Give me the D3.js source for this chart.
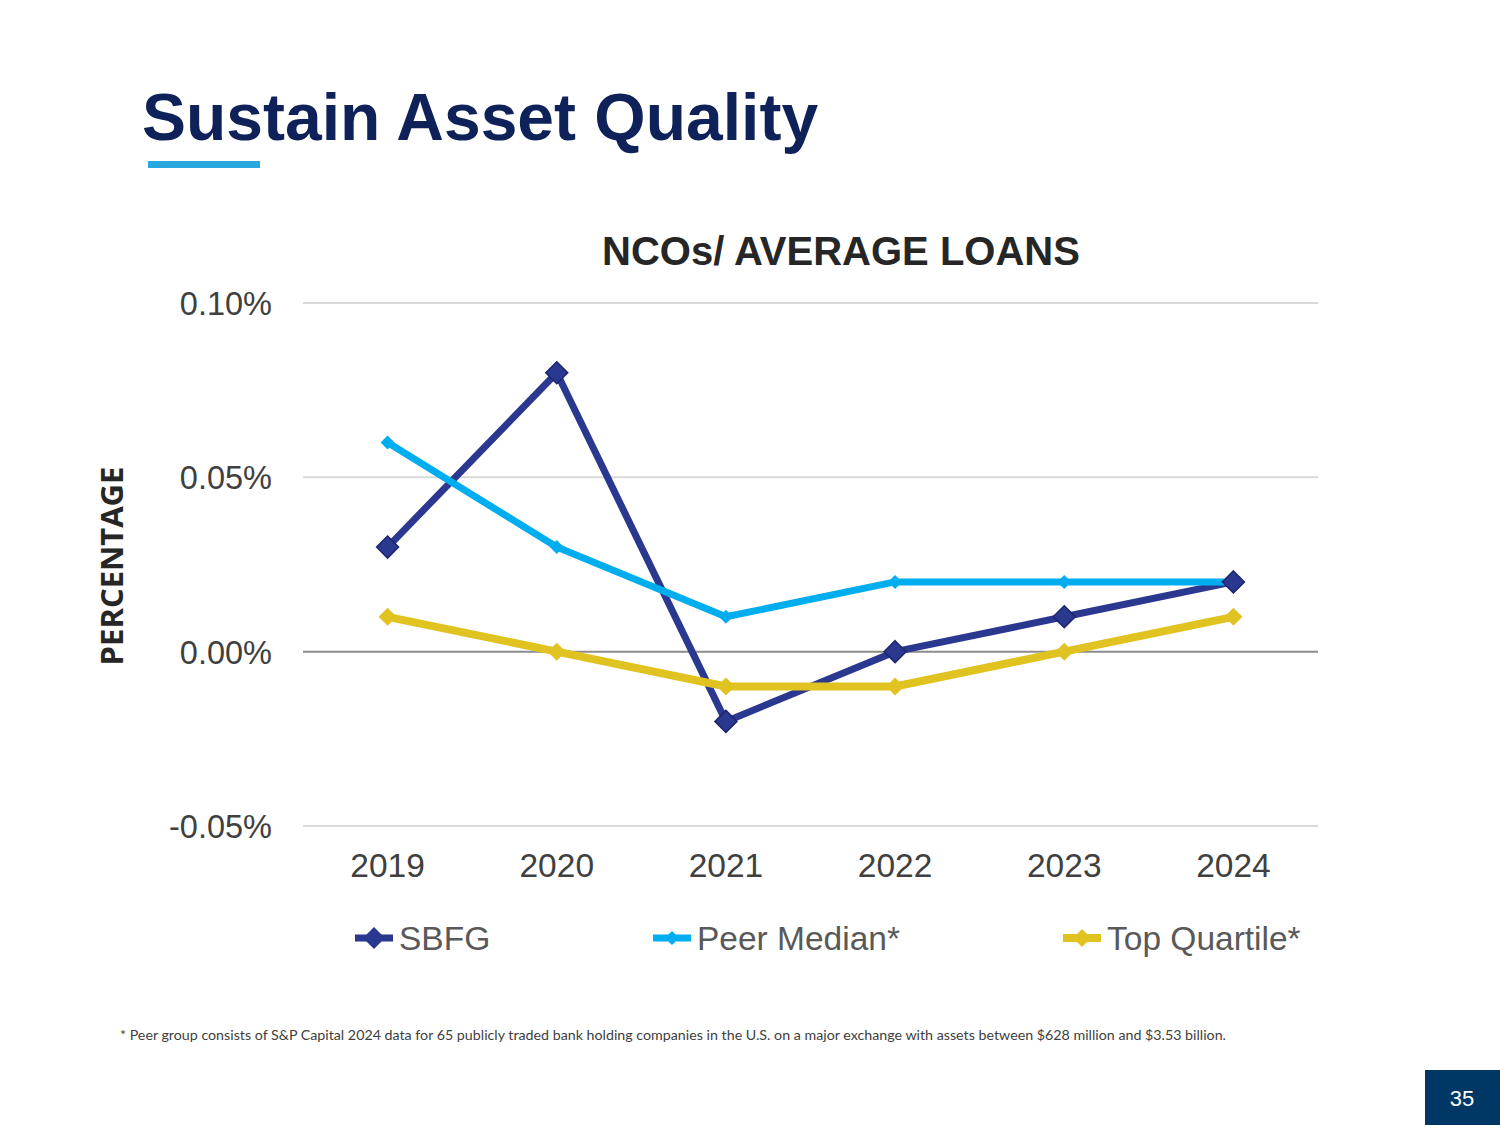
<!DOCTYPE html>
<html>
<head>
<meta charset="utf-8">
<script src="https://cdn.jsdelivr.net/npm/d3@7"></script>
<style>
  body { margin: 0; background: #fff; }
  svg { display: block; }
</style>
</head>
<body>
<svg id="slide" width="1500" height="1125"></svg>
<script>
// chart data
let years = ['2019', '2020', '2021', '2022', '2023', '2024']
let sbfg = [0.03, 0.08, -0.02, 0.00, 0.01, 0.02]
let peerMedian = [0.06, 0.03, 0.01, 0.02, 0.02, 0.02]
let topQuartile = [0.01, 0.00, -0.01, -0.01, 0.00, 0.01]
let yTicks = [-0.05, 0, 0.05, 0.10]
let seriesNames = ['SBFG', 'Peer Median*', 'Top Quartile*']

let svg = d3.select('#slide')

// slide header
svg.append('text')
  .attr('x', 142).attr('y', 140)
  .style('font-family', 'Liberation Sans, Arial, sans-serif')
  .style('font-weight', 'bold')
  .style('font-size', '66px')
  .attr('fill', '#0e2158')
  .text('Sustain Asset Quality')
svg.append('rect')
  .attr('x', 148).attr('y', 161).attr('width', 112).attr('height', 7)
  .attr('fill', '#29a8e0')

let x = d3.scalePoint().domain(years).range([303, 1318]).padding(0.5)
let y = d3.scaleLinear().domain([-0.05, 0.10]).range([826, 303])

// grid
svg.append('g').selectAll('line')
  .data(yTicks)
  .enter().append('line')
  .attr('x1', 303).attr('x2', 1318)
  .attr('y1', d => y(d)).attr('y2', d => y(d))
  .attr('stroke', d => d === 0 ? '#8c8c8c' : '#d9d9d9')
  .attr('stroke-width', 2)

// y tick labels
let pct = d => (d < 0 ? '-' : '') + d3.format('.2f')(Math.abs(d)) + '%'
svg.append('g').selectAll('text')
  .data(yTicks)
  .enter().append('text')
  .attr('x', 272).attr('y', d => y(d) + 12)
  .attr('text-anchor', 'end')
  .style('font-family', 'Liberation Sans, Arial, sans-serif')
  .style('font-size', '32.5px')
  .attr('fill', '#404040')
  .text(pct)

// x labels
svg.append('g').selectAll('text')
  .data(years)
  .enter().append('text')
  .attr('x', d => x(d)).attr('y', 877)
  .attr('text-anchor', 'middle')
  .style('font-family', 'Liberation Sans, Arial, sans-serif')
  .style('font-size', '33.5px')
  .attr('fill', '#404040')
  .text(d => d)

// chart title
svg.append('text')
  .attr('x', 841).attr('y', 265)
  .attr('text-anchor', 'middle')
  .style('font-family', 'Liberation Sans, Arial, sans-serif')
  .style('font-weight', 'bold')
  .style('font-size', '40px')
  .attr('fill', '#262626')
  .text('NCOs/ AVERAGE LOANS')

// y axis title
svg.append('text')
  .attr('transform', 'translate(123,566)rotate(-90)')
  .attr('text-anchor', 'middle')
  .style('font-family', 'Open Sans, sans-serif')
  .style('font-weight', 'bold')
  .style('font-size', '31px')
  .attr('fill', '#262626')
  .text('PERCENTAGE')

let series = [
  { name: seriesNames[0], values: sbfg, color: '#2b388f', width: 7, marker: 11, stroke: '#1c2670' },
  { name: seriesNames[1], values: peerMedian, color: '#00aeef', width: 7, marker: 7, stroke: 'none' },
  { name: seriesNames[2], values: topQuartile, color: '#e0c321', width: 8, marker: 9, stroke: 'none' }
]

let line = d3.line()
  .x((d, i) => x(years[i]))
  .y(d => y(d))

svg.append('g').selectAll('path')
  .data(series)
  .enter().append('path')
  .attr('d', d => line(d.values))
  .attr('fill', 'none')
  .attr('stroke', d => d.color)
  .attr('stroke-width', d => d.width)
  .attr('stroke-linejoin', 'round')

function diamond(cx, cy, r) {
  return 'M' + cx + ',' + (cy - r) + 'L' + (cx + r) + ',' + cy + 'L' + cx + ',' + (cy + r) + 'L' + (cx - r) + ',' + cy + 'Z'
}

// markers, SBFG on top
let markerOrder = [series[1], series[2], series[0]]
markerOrder.forEach(s => {
  svg.append('g').selectAll('path')
    .data(s.values)
    .enter().append('path')
    .attr('d', (d, i) => diamond(x(years[i]), y(d), s.marker))
    .attr('fill', s.color)
    .attr('stroke', s.stroke)
    .attr('stroke-width', 1.5)
})

// legend
let legendX = [355, 653, 1063]
let legend = svg.append('g').selectAll('g')
  .data(series)
  .enter().append('g')
  .attr('transform', (d, i) => 'translate(' + legendX[i] + ',938)')
legend.append('line')
  .attr('x1', 0).attr('x2', 38)
  .attr('stroke', d => d.color)
  .attr('stroke-width', d => d.width)
legend.append('path')
  .attr('d', d => diamond(19, 0, d.marker))
  .attr('fill', d => d.color)
legend.append('text')
  .attr('x', 44).attr('y', 12)
  .style('font-family', 'Liberation Sans, Arial, sans-serif')
  .style('font-size', '33.5px')
  .attr('fill', '#595959')
  .text(d => d.name)

// footnote
svg.append('text')
  .attr('x', 120).attr('y', 1040)
  .style('font-family', 'Lato, sans-serif')
  .style('font-size', '13.5px')
  .attr('fill', '#404040')
  .attr('textLength', 1106)
  .attr('lengthAdjust', 'spacingAndGlyphs')
  .text('* Peer group consists of S&P Capital 2024 data for 65 publicly traded bank holding companies in the U.S. on a major exchange with assets between $628 million and $3.53 billion.')

// page number
svg.append('rect')
  .attr('x', 1425).attr('y', 1070).attr('width', 75).attr('height', 55)
  .attr('fill', '#003764')
svg.append('text')
  .attr('x', 1462).attr('y', 1106)
  .attr('text-anchor', 'middle')
  .style('font-family', 'Liberation Sans, Arial, sans-serif')
  .style('font-size', '22px')
  .attr('fill', '#ffffff')
  .text('35')
</script>
</body>
</html>
